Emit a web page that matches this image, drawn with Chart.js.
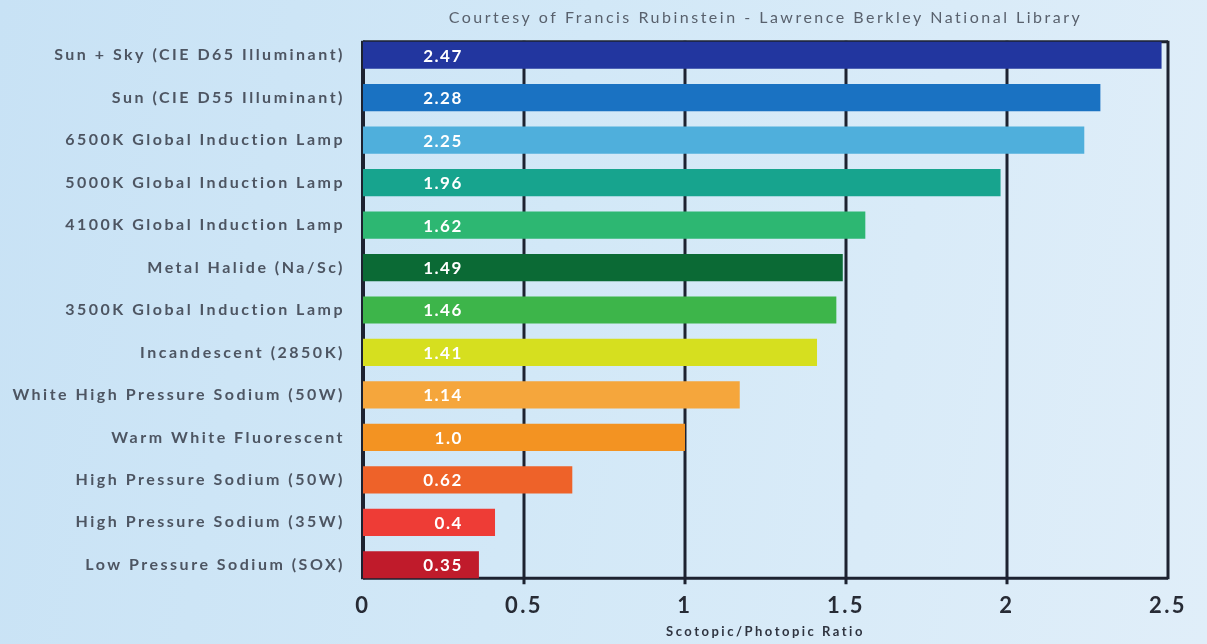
<!DOCTYPE html>
<html>
<head>
<meta charset="utf-8">
<script src="https://cdn.jsdelivr.net/npm/chart.js@4/dist/chart.umd.min.js"></script>
<style>
html, body { margin: 0; padding: 0; }
body {
    width: 1207px; height: 644px; overflow: hidden;
    background: linear-gradient(100deg, #c8e2f5 0%, #d2e8f7 45%, #e0eef9 100%);
}
</style>
</head>
<body>
<canvas id="ratioChart" width="1207" height="644"></canvas>
<script>
// data
var lamps = [
    'Sun + Sky (CIE D65 Illuminant)',
    'Sun (CIE D55 Illuminant)',
    '6500K Global Induction Lamp',
    '5000K Global Induction Lamp',
    '4100K Global Induction Lamp',
    'Metal Halide (Na/Sc)',
    '3500K Global Induction Lamp',
    'Incandescent (2850K)',
    'White High Pressure Sodium (50W)',
    'Warm White Fluorescent',
    'High Pressure Sodium (50W)',
    'High Pressure Sodium (35W)',
    'Low Pressure Sodium (SOX)'
];
// bar lengths as drawn
var ratios = [2.48, 2.29, 2.24, 1.98, 1.56, 1.49, 1.47, 1.41, 1.17, 1.0, 0.65, 0.41, 0.36];
// numbers printed inside the bars
var ratioLabels = ['2.47', '2.28', '2.25', '1.96', '1.62', '1.49', '1.46', '1.41', '1.14', '1.0', '0.62', '0.4', '0.35'];
var barColors = [
    '#22369f', '#1a72c2', '#4fafdc', '#17a48e', '#2db772', '#0b6a35', '#3db54a',
    '#d6df1f', '#f5a63c', '#f39322', '#ee6229', '#ee3c36', '#c01b2b'
];
var tickValues = [0, 0.5, 1, 1.5, 2, 2.5];
var chartTitle = 'Courtesy of Francis Rubinstein - Lawrence Berkley National Library';
var axisTitle = 'Scotopic/Photopic Ratio';

var FONT = 'Lato, "DejaVu Sans", sans-serif';
var labelAnchor = 0.31; // value labels end here (x units)

// frame + vertical grid lines, only as tall as the bars
var framePlugin = {
    id: 'frame',
    beforeDraw: function (chart) {
        // wide tracking like the original lettering
        chart.ctx.letterSpacing = '2.5px';
    },
    beforeDatasetsDraw: function (chart) {
        var ctx = chart.ctx;
        var meta = chart.getDatasetMeta(0);
        var first = meta.data[0], last = meta.data[meta.data.length - 1];
        var top = first.y - first.height / 2;
        var bottom = last.y + last.height / 2;
        var xs = chart.scales.x;
        ctx.save();
        ctx.strokeStyle = '#1d2230';
        tickValues.forEach(function (v, i) {
            var px = xs.getPixelForValue(v);
            ctx.lineWidth = (i == 0) ? 4 : 3;
            ctx.beginPath();
            ctx.moveTo(px, top - 1);
            ctx.lineTo(px, bottom + ((i > 0 && i < tickValues.length - 1) ? 6 : 1));
            ctx.stroke();
        });
        ctx.lineWidth = 3;
        ctx.beginPath();
        ctx.moveTo(xs.getPixelForValue(0), top);
        ctx.lineTo(xs.getPixelForValue(2.5), top);
        ctx.moveTo(xs.getPixelForValue(0), bottom);
        ctx.lineTo(xs.getPixelForValue(2.5), bottom);
        ctx.stroke();
        ctx.restore();
    },
    afterDatasetsDraw: function (chart) {
        var ctx = chart.ctx;
        var meta = chart.getDatasetMeta(0);
        var xs = chart.scales.x;
        ctx.save();
        ctx.font = 'bold 17px ' + FONT;
        ctx.letterSpacing = '1.5px';
        ctx.fillStyle = '#ffffff';
        ctx.textAlign = 'right';
        ctx.textBaseline = 'middle';
        meta.data.forEach(function (bar, i) {
            ctx.fillText(ratioLabels[i], xs.getPixelForValue(labelAnchor), bar.y + 1);
        });
        // chart title
        var area = chart.chartArea;
        ctx.font = '16px ' + FONT;
        ctx.letterSpacing = '2.5px';
        ctx.fillStyle = '#59616d';
        ctx.textAlign = 'center';
        ctx.fillText(chartTitle, (area.left + area.right) / 2, 18);
        ctx.restore();
    }
};

var ctx = document.getElementById('ratioChart').getContext('2d');
var myChart = new Chart(ctx, {
    type: 'bar',
    data: {
        labels: lamps,
        datasets: [{
            data: ratios,
            backgroundColor: barColors,
            borderWidth: 0,
            categoryPercentage: 1,
            barPercentage: 0.64
        }]
    },
    options: {
        indexAxis: 'y',
        responsive: false,
        animation: false,
        devicePixelRatio: 1,
        layout: { padding: { top: 34, right: 39, bottom: 4, left: 0 } },
        plugins: {
            legend: { display: false },
            tooltip: { enabled: false }
        },
        scales: {
            x: {
                min: 0,
                max: 2.5,
                grid: { display: false, drawTicks: false },
                border: { display: false },
                afterBuildTicks: function (scale) {
                    scale.ticks = tickValues.map(function (v) { return { value: v }; });
                },
                afterFit: function (scale) { scale.height = 54; },
                ticks: {
                    padding: 7,
                    color: '#272b35',
                    font: { family: FONT, size: 22, weight: 'bold' },
                    maxRotation: 0,
                    callback: function (value) { return String(value); }
                },
                title: {
                    display: true,
                    text: axisTitle,
                    color: '#2f3440',
                    font: { family: FONT, size: 13, weight: 'bold' },
                    padding: { top: 4, bottom: 0 }
                }
            },
            y: {
                offset: true,
                grid: { display: false, drawTicks: false },
                border: { display: false },
                afterFit: function (scale) { scale.width = 363; },
                ticks: {
                    padding: 18,
                    color: '#4d5562',
                    font: { family: FONT, size: 16, weight: 'bold' }
                }
            }
        }
    },
    plugins: [framePlugin]
});
</script>
</body>
</html>
